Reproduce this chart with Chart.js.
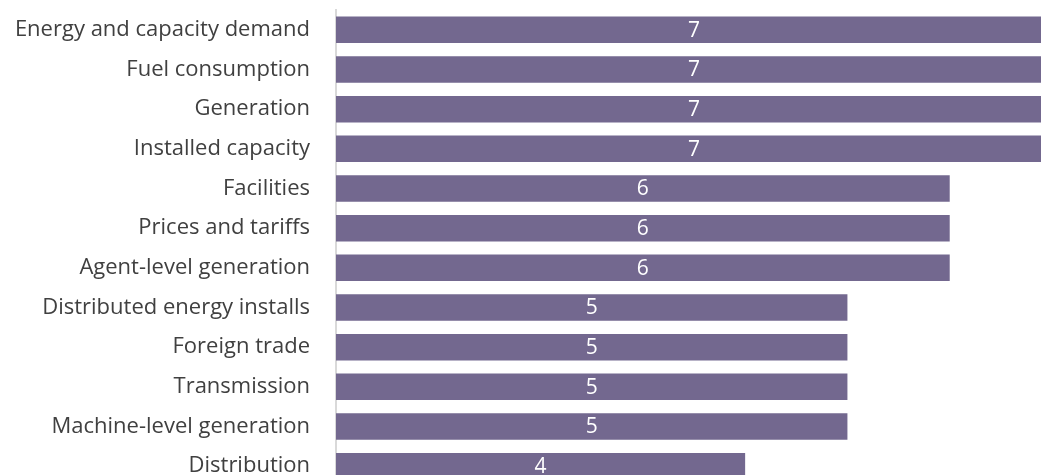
<!DOCTYPE html>
<html>
<head>
<meta charset="utf-8">
<script src="https://cdn.jsdelivr.net/npm/chart.js@4"></script>
<style>
  html, body { margin: 0; padding: 0; background: #fff; overflow: hidden; }
  #wrap { position: relative; width: 1052px; height: 486px; }
</style>
</head>
<body>
<div id="wrap"><canvas id="barChart"></canvas></div>
<script>
// categories and counts
const categories = [
  "Energy and capacity demand",
  "Fuel consumption",
  "Generation",
  "Installed capacity",
  "Facilities",
  "Prices and tariffs",
  "Agent-level generation",
  "Distributed energy installs",
  "Foreign trade",
  "Transmission",
  "Machine-level generation",
  "Distribution"
];
const counts = [7, 7, 7, 7, 6, 6, 6, 5, 5, 5, 5, 4];

const labelFont = "'Open Sans', sans-serif";

// value labels drawn in the middle of each bar
const barValues = {
  id: "barValues",
  afterDatasetsDraw(chart) {
    const ctx = chart.ctx;
    const meta = chart.getDatasetMeta(0);
    ctx.save();
    ctx.fillStyle = "#ffffff";
    ctx.font = "21px " + labelFont;
    ctx.textAlign = "center";
    ctx.textBaseline = "middle";
    meta.data.forEach((bar, i) => {
      const cx = (bar.base + bar.x) / 2;
      ctx.fillText(String(counts[i]), cx, bar.y + 1);
    });
    ctx.restore();
  }
};

const ctx = document.getElementById("barChart");
const chart = new Chart(ctx, {
  type: "bar",
  data: {
    labels: categories,
    datasets: [
      {
        data: counts,
        backgroundColor: "#73688f",
        borderWidth: 0,
        categoryPercentage: 0.667,
        barPercentage: 1.0,
      },
    ],
  },
  options: {
    indexAxis: "y",
    responsive: true,
    maintainAspectRatio: false,
    animation: false,
    layout: { padding: { top: 10, right: 0, bottom: 0, left: 0 } },
    plugins: {
      legend: { display: false },
      tooltip: { enabled: false },
    },
    scales: {
      x: {
        display: false,
        min: 0,
        max: 7,
      },
      y: {
        afterFit(scale) {
          scale.width = 336;
          scale.paddingTop = 0;
          scale.paddingBottom = 0;
        },
        grid: {
          display: false,
          drawTicks: false,
        },
        border: { display: true, color: "#d9d9d9", width: 2 },
        ticks: {
          color: "#404040",
          padding: 26,
          font: { family: labelFont, size: 22 },
        },
      },
    },
  },
  plugins: [barValues],
});
</script>
</body>
</html>
